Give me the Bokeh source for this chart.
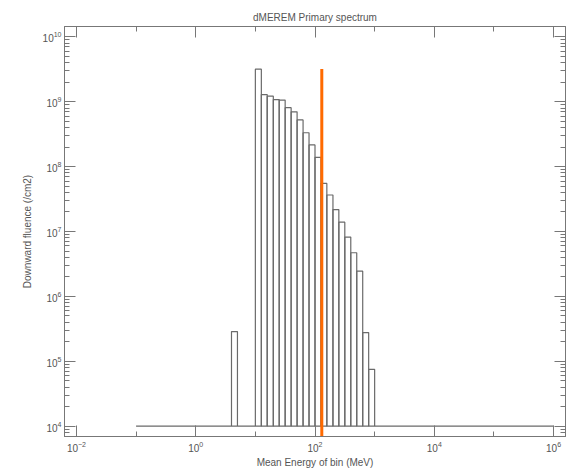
from bokeh.plotting import figure
from bokeh.models import (LogAxis, FixedTicker, CustomJSTickFormatter,
                          LogTickFormatter, Range1d, ColumnDataSource)
from bokeh.embed import file_html
from bokeh.resources import INLINE

# ---------------- data ----------------
title_text = "dMEREM Primary spectrum"
x_label = "Mean Energy of bin (MeV)"
y_label = "Downward fluence (/cm2)"

# energy bin edges (MeV)
bin_edges = [0.1, 3.98, 5.01, 10.0, 12.6, 15.8, 20.0, 25.1, 31.6, 39.8, 50.1,
             63.1, 79.4, 100.0, 126.0, 158.0, 200.0, 251.0, 316.0, 398.0,
             501.0, 631.0, 794.0, 1000.0, 1.0e6]
# downward fluence per bin (/cm2)
fluence = [1.0e4, 2.87e5, 1.0e4,
           3.18e9, 1.29e9, 1.22e9, 1.08e9, 1.06e9, 8.1e8, 7.0e8, 5.25e8,
           3.33e8, 2.16e8, 1.39e8, 5.5e7, 3.65e7, 2.18e7, 1.39e7, 8.2e6,
           4.7e6, 2.45e6, 2.77e5, 7.5e4,
           1.0e4]
floor_value = 1.0e4

# marker line (orange)
marker_energy = [130.0]
marker_top = [3.2e9]

# tick positions
x_major = [1e-2, 1e0, 1e2, 1e4, 1e6]
x_minor = [1e-1, 1e1, 1e3, 1e5]
y_major = [1e4, 1e5, 1e6, 1e7, 1e8, 1e9, 1e10]
y_minor = [k * 10.0 ** n for n in range(3, 11) for k in range(2, 10)]

x_start, x_end = 10 ** -2.2, 10 ** 6.2
y_start, y_end = 10 ** 3.84, 10 ** 10.16

# ---------------- figure ----------------
FONT = "Liberation Sans"
TXT = "#555555"
LINE = "#777777"

p = figure(width=573, height=470, x_axis_type="log", y_axis_type="log",
           x_range=Range1d(x_start, x_end), y_range=Range1d(y_start, y_end),
           output_backend="svg", toolbar_location=None,
           min_border_left=64, min_border_right=8,
           min_border_top=26, min_border_bottom=33,
           background_fill_color="white", border_fill_color="white")

p.title.text = title_text
p.title.align = "center"
p.title.text_font = FONT
p.title.text_font_size = "10px"
p.title.text_font_style = "normal"
p.title.text_color = TXT
p.title.standoff = 8
p.title.offset = 0

p.xgrid.visible = False
p.ygrid.visible = False
p.outline_line_color = LINE

src = ColumnDataSource(dict(left=bin_edges[:-1], right=bin_edges[1:],
                            top=fluence,
                            bottom=[floor_value] * len(fluence)))
p.quad(left="left", right="right", top="top", bottom="bottom", source=src,
       fill_color=None, line_color="#6a6a6a", line_width=1.2)

msrc = ColumnDataSource(dict(x=marker_energy, y1=marker_top,
                             y0=[y_start] * len(marker_energy)))
p.segment(x0="x", x1="x", y0="y0", y1="y1", source=msrc,
          line_color="#ff6a00", line_width=3)

xt = FixedTicker(ticks=x_major, minor_ticks=x_minor)
yt = FixedTicker(ticks=y_major, minor_ticks=y_minor)


def style_axis(ax, show_labels):
    ax.axis_line_color = LINE
    ax.major_tick_line_color = LINE
    ax.minor_tick_line_color = LINE
    ax.major_tick_in = 11
    ax.major_tick_out = 0
    ax.minor_tick_in = 5
    ax.minor_tick_out = 0
    if show_labels:
        ax.major_label_text_font = FONT
        ax.major_label_text_font_size = "10px"
        ax.major_label_text_color = TXT
        ax.axis_label_text_font = FONT
        ax.axis_label_text_font_size = "10px"
        ax.axis_label_text_font_style = "normal"
        ax.axis_label_text_color = TXT
    else:
        ax.major_label_text_font_size = "0px"
        ax.major_label_standoff = 0
        ax.formatter = CustomJSTickFormatter(code="return ''")


xa = p.xaxis[0]
xa.ticker = xt
xa.formatter = LogTickFormatter()
xa.axis_label = x_label
style_axis(xa, True)
xa.major_label_standoff = 4
xa.axis_label_standoff = 2

ya = p.yaxis[0]
ya.ticker = yt
ya.formatter = LogTickFormatter()
ya.axis_label = y_label
style_axis(ya, True)
ya.major_label_standoff = 3
ya.axis_label_standoff = 7

top_ax = LogAxis(ticker=xt)
style_axis(top_ax, False)
p.add_layout(top_ax, "above")

right_ax = LogAxis(ticker=yt)
style_axis(right_ax, False)
p.add_layout(right_ax, "right")

open("out.html", "w").write(file_html(p, INLINE))
